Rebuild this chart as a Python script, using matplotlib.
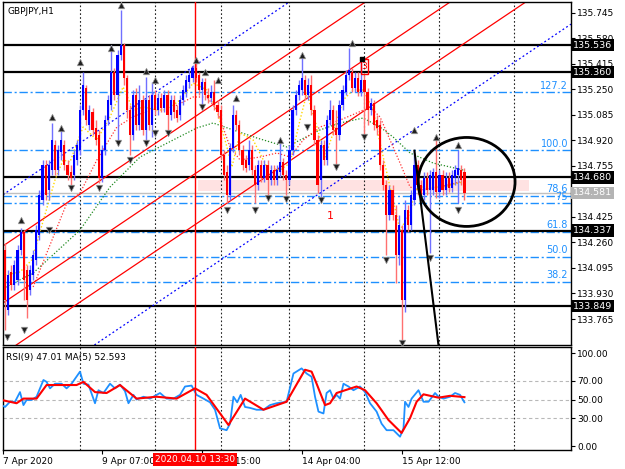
import matplotlib
matplotlib.use("Agg")
import matplotlib.pyplot as plt
import matplotlib.transforms as mtransforms
from matplotlib.patches import Ellipse, Rectangle
import numpy as np

# ---- GBPJPY H1 candles (bar 0 = first visible bar) ----
opens = [134.211, 133.823, 134.069, 133.985, 134.017, 134.211, 134.327, 134.082, 133.953, 134.049,
         134.147, 134.308, 134.534, 134.760, 134.599, 134.728, 134.890, 134.728, 134.844, 134.890,
         134.760, 134.715, 134.696, 134.793, 134.857, 135.116, 135.258, 135.019, 135.103, 135.000,
         134.954, 134.676, 134.857, 135.051, 135.148, 135.362, 135.213, 135.471, 135.536, 135.323,
         135.116, 134.954, 135.213, 135.019, 135.181, 134.987, 135.181, 135.019, 135.213, 135.116,
         135.194, 135.129, 135.213, 135.084, 135.181, 135.116, 135.084, 135.181, 135.232, 135.297,
         135.323, 135.387, 135.342, 135.245, 135.297, 135.213, 135.194, 135.232, 135.148, 135.116,
         134.825, 134.715, 134.567, 134.870, 135.084, 135.019, 134.857, 134.793, 134.760, 134.857,
         134.728, 134.631, 134.760, 134.676, 134.760, 134.664, 134.728, 134.664, 134.715, 134.780,
         134.696, 134.664, 134.857, 135.116, 135.213, 135.245, 135.310, 135.213, 135.278, 135.116,
         134.922, 134.664, 134.890, 134.793, 135.051, 135.116, 135.000, 134.954, 135.148, 135.232,
         135.342, 135.362, 135.258, 135.323, 135.232, 135.310, 135.232, 135.116, 135.161, 135.051,
         135.019, 134.760, 134.631, 134.437, 134.599, 134.437, 134.179, 134.340, 133.888, 134.470,
         134.373, 134.534, 134.760, 134.631, 134.567, 134.676, 134.599, 134.599, 134.715, 134.586,
         134.696, 134.599, 134.676, 134.612, 134.676, 134.696, 134.728, 134.715]
highs = [134.256, 134.082, 134.114, 134.147, 134.243, 134.353, 134.340, 134.114, 134.114, 134.211,
         134.373, 134.599, 134.793, 134.793, 134.793, 135.032, 134.922, 134.890, 134.987, 134.922,
         134.793, 134.760, 134.857, 134.922, 135.148, 135.362, 135.278, 135.148, 135.129, 135.051,
         134.987, 134.890, 135.084, 135.213, 135.536, 135.387, 135.504, 135.762, 135.549, 135.342,
         135.148, 135.245, 135.258, 135.278, 135.213, 135.329, 135.213, 135.297, 135.245, 135.226,
         135.226, 135.245, 135.245, 135.213, 135.213, 135.148, 135.213, 135.278, 135.342, 135.375,
         135.407, 135.426, 135.362, 135.323, 135.323, 135.258, 135.278, 135.310, 135.181, 135.148,
         134.857, 134.760, 134.903, 135.148, 135.116, 135.051, 134.890, 134.825, 134.922, 134.890,
         134.760, 134.793, 134.793, 134.793, 134.793, 134.760, 134.760, 134.760, 134.922, 134.806,
         134.728, 134.890, 135.148, 135.245, 135.310, 135.459, 135.342, 135.323, 135.342, 135.148,
         134.954, 134.922, 134.922, 135.084, 135.181, 135.148, 135.116, 135.181, 135.278, 135.375,
         135.517, 135.387, 135.362, 135.362, 135.439, 135.342, 135.258, 135.194, 135.181, 135.084,
         135.051, 134.793, 134.664, 134.631, 134.631, 134.502, 134.437, 134.373, 134.534, 134.502,
         134.599, 134.857, 134.793, 134.664, 134.715, 134.715, 134.728, 134.741, 134.922, 134.728,
         134.728, 134.715, 134.715, 134.728, 134.760, 134.857, 134.760, 134.741]
lows = [133.694, 133.791, 133.953, 133.953, 133.985, 134.179, 133.888, 133.771, 133.920, 134.017,
        134.114, 134.276, 134.502, 134.534, 134.534, 134.696, 134.696, 134.696, 134.793, 134.728,
        134.664, 134.631, 134.664, 134.760, 134.825, 135.084, 135.019, 134.987, 134.954, 134.890,
        134.644, 134.651, 134.825, 135.019, 135.116, 135.181, 134.922, 135.439, 135.278, 135.064,
        134.825, 134.922, 134.987, 134.987, 134.954, 134.922, 134.987, 134.941, 135.084, 135.084,
        135.103, 135.103, 134.987, 135.051, 135.064, 135.038, 135.051, 135.148, 135.200, 135.258,
        135.297, 135.297, 135.213, 135.135, 135.181, 135.161, 135.168, 135.116, 135.064, 134.793,
        134.664, 134.515, 134.534, 134.844, 134.987, 134.825, 134.728, 134.715, 134.728, 134.696,
        134.515, 134.599, 134.651, 134.651, 134.567, 134.631, 134.631, 134.631, 134.683, 134.664,
        134.567, 134.631, 134.825, 135.084, 135.181, 135.213, 135.181, 135.181, 135.084, 134.890,
        134.579, 134.554, 134.760, 134.760, 135.019, 134.954, 134.760, 134.922, 135.116, 135.213,
        135.310, 135.232, 135.232, 135.206, 135.206, 134.941, 135.019, 135.084, 134.987, 134.954,
        134.728, 134.599, 134.179, 134.405, 134.405, 133.998, 134.114, 133.629, 133.810, 134.327,
        134.340, 134.502, 134.567, 134.534, 134.534, 134.567, 134.192, 134.567, 134.547, 134.547,
        134.567, 134.567, 134.586, 134.586, 134.631, 134.515, 134.631, 134.534]
closes = [133.888, 134.049, 133.985, 134.114, 134.211, 134.327, 134.017, 133.888, 134.082, 134.179,
          134.340, 134.567, 134.760, 134.567, 134.760, 134.922, 134.728, 134.857, 134.922, 134.760,
          134.696, 134.676, 134.825, 134.890, 135.116, 135.278, 135.051, 135.116, 134.987, 134.922,
          134.676, 134.857, 135.051, 135.181, 135.362, 135.213, 135.471, 135.536, 135.323, 135.116,
          134.954, 135.213, 135.019, 135.181, 134.987, 135.181, 135.019, 135.213, 135.116, 135.194,
          135.129, 135.213, 135.084, 135.181, 135.103, 135.064, 135.181, 135.245, 135.310, 135.342,
          135.387, 135.323, 135.245, 135.297, 135.213, 135.194, 135.232, 135.148, 135.103, 134.825,
          134.696, 134.567, 134.870, 135.084, 135.019, 134.857, 134.760, 134.741, 134.857, 134.728,
          134.631, 134.760, 134.676, 134.760, 134.664, 134.728, 134.664, 134.728, 134.780, 134.696,
          134.664, 134.857, 135.116, 135.213, 135.278, 135.323, 135.213, 135.278, 135.116, 134.922,
          134.631, 134.890, 134.793, 135.051, 135.116, 134.987, 134.954, 135.148, 135.245, 135.342,
          135.375, 135.258, 135.323, 135.232, 135.310, 135.232, 135.116, 135.161, 135.019, 135.000,
          134.760, 134.631, 134.437, 134.599, 134.437, 134.179, 134.373, 133.888, 134.470, 134.373,
          134.567, 134.760, 134.631, 134.567, 134.676, 134.599, 134.696, 134.715, 134.586, 134.696,
          134.599, 134.676, 134.612, 134.696, 134.728, 134.741, 134.664, 134.581]

# dotted indicator lines on the price chart (bar, price)
yellow_bar = [0, 4.8, 8.6, 16, 18.6, 20.8, 23.4, 25, 29.4, 33.6, 37.8, 41, 44.2, 48.6, 51.8, 56, 60.2,
              64.6, 67.8, 71, 72.6, 75.2, 79.4, 83.8, 88, 91.2, 94.4, 96.6, 99.8, 102.4, 105, 108.2,
              111.4, 114.6, 117.8, 120, 123.2, 126.4, 129.6, 131.2, 133.8, 140.2, 146.6]
yellow_px = [134.049, 134.069, 134.147, 134.664, 134.793, 134.780, 134.922, 135.006, 134.922, 135.071,
             135.265, 135.116, 135.135, 135.116, 135.116, 135.181, 135.290, 135.245, 135.116, 134.877,
             134.747, 134.967, 134.922, 134.747, 134.728, 134.773, 135.051, 135.226, 135.006, 134.812,
             134.967, 135.181, 135.245, 135.245, 135.116, 134.903, 134.618, 134.340, 134.450, 134.599,
             134.618, 134.618, 134.651]
reddot_bar = [9, 19.8, 24, 29.4, 35.8, 41, 48.6, 53.8, 60.2, 64.6, 67.8, 72, 75.2, 81.6, 87, 91.2,
              95.4, 100.8, 107.2, 112.6, 116.8, 120, 123.2, 126.4, 129.6, 132.8, 139.2, 145.6]
reddot_px = [133.972, 134.515, 134.579, 134.793, 135.006, 135.071, 135.135, 135.135, 135.200, 135.200,
             135.116, 134.877, 134.793, 134.812, 134.838, 134.812, 134.922, 135.006, 135.051, 135.097,
             135.135, 135.071, 134.922, 134.773, 134.618, 134.599, 134.618, 134.651]
green_bar = [-1.6, 9, 24, 33.6, 43.2, 53.8, 61.4, 66.6, 73, 80.6, 90.2, 94.4, 100.8, 107.2, 114.6,
             120, 124.2, 129.6, 137, 146.6]
green_px = [133.952, 134.062, 134.340, 134.618, 134.812, 134.922, 135.000, 135.032, 134.987, 134.935,
            134.877, 134.922, 134.987, 135.032, 135.064, 135.006, 134.941, 134.838, 134.773, 134.728]

# fractal arrows (bar, price)
up_bar = [5, 15, 18, 24, 34, 37, 45, 48, 61, 64, 68, 74, 88, 95, 111, 131, 138, 145]
up_px = [134.405, 135.071, 135.000, 135.426, 135.517, 135.795, 135.368, 135.310, 135.439, 135.362,
         135.310, 135.194, 134.922, 135.471, 135.549, 134.987, 134.941, 134.890]
dn_bar = [0.6, 6, 14, 21, 30, 36, 40, 45, 48, 52, 63, 71, 80, 84, 90, 96.5, 101, 106, 115, 122,
          127, 136, 145]
dn_px = [133.649, 133.694, 134.340, 134.612, 134.612, 134.903, 134.793, 134.903, 134.967, 134.967,
         135.135, 134.470, 134.470, 134.547, 134.541, 135.008, 134.534, 134.748, 134.941, 134.147,
         133.610, 134.159, 134.470]

# RSI(9) and its MA(5), read as (bar, value)
rsi_bar = [-1.1, 0, 1.6, 3.2, 4.8, 5.9, 6.9, 8.5, 10.1, 12.3, 13.3, 14.4, 16, 18.1, 19.7, 21.3, 24,
           25.1, 26.7, 28.8, 29.9, 31.5, 33.6, 35.2, 36.8, 38.4, 39.5, 41.1, 42.1, 44.3, 46.4, 49.6,
           51.7, 53.9, 56, 57.6, 59.7, 61.3, 63.5, 65.6, 67.2, 68.8, 70.9, 72, 73.1, 74.3, 75.4, 76.8,
           78.4, 80.5, 82.7, 84.8, 86.9, 90.1, 92.3, 94.9, 96.5, 98.1, 99.2, 100.3, 101.9, 102.9, 104,
           105.1, 106.1, 107.2, 108.3, 109.9, 111.5, 113.6, 115.2, 116.8, 118.9, 120.5, 122.1, 124.3,
           126.4, 127.5, 128, 129.1, 130.1, 132.3, 133.9, 135.5, 137.6, 138.7, 140.3, 142.4, 144,
           145.6, 147]
rsi_val = [44, 42, 47.6, 47.6, 58, 44, 49.5, 49.5, 53, 71, 69, 62, 67, 67, 62, 67, 80,
           67, 66, 46, 60, 57, 67, 62, 66, 59, 46, 55, 50, 53, 51, 57,
           51, 51, 55, 64, 65, 55, 51, 47, 39, 19, 17, 24, 53, 47, 55, 42,
           41, 39, 39, 44, 46, 47.6, 78, 83.5, 78, 74.5, 53, 37, 35, 57, 60,
           51, 55, 51, 67, 64, 60, 64, 58, 46, 37, 24, 17, 17,
           10, 19, 47.6, 42, 51, 60, 47.6, 47.6, 57, 53, 51, 53, 57,
           55, 47.01]
ma_bar = [-1.1, 3.7, 5.9, 10.1, 13.3, 22.9, 25.1, 28.8, 32.5, 36.8, 42.1, 48.5, 54.9, 60.8, 64.5,
          71.5, 76.8, 82.7, 90.1, 96, 98.1, 99.7, 102.4, 104, 106.1, 112.5, 115.2, 118.9, 122.7,
          126.9, 129.6, 131.7, 133.9, 138.7, 142.4, 147]
ma_val = [49.5, 46, 51, 51, 65.6, 65.6, 69, 58, 57, 65.6, 51, 53, 51, 62, 55,
          22.6, 51, 39, 47.6, 82, 80, 67, 44, 46, 57, 64, 60, 46, 28,
          14, 30, 47.6, 55.6, 52, 54, 52.593]

# horizontal levels, fibonacci and channel objects
h_levels = [135.536, 135.360, 134.680, 134.337, 133.849]
last_price = 134.581
fib_low, fib_high = 133.479, 134.857
fib_pcts = [127.2, 100.0, 78.6, 75.0, 61.8, 50.0, 38.2]
fib_text = ["127.2", "100.0", "78.6", "75", "61.8", "50.0", "38.2"]
red_channel = [(134.246, 135.606), (133.877, 135.237), (133.548, 134.908)]   # price at bar 0 / bar 100
blue_channel = [(134.577, 135.937), (133.208, 134.568)]
price_ticks = [135.745, 135.580, 135.415, 135.250, 135.085, 134.920, 134.755, 134.590,
               134.425, 134.260, 134.095, 133.930, 133.765]
hidden_tick = 134.590   # sits under the current-price box
time_bars = [-0.6, 31, 63, 95, 127]
time_labels = ["7 Apr 2020", "9 Apr 07:00", "10 Apr 15:00", "14 Apr 04:00", "15 Apr 12:00"]
grid_bars = [24, 48, 69, 91, 115, 139, 163]
cursor_bar = 60.8

plt.rcParams['font.family'] = ['DejaVu Sans']
FS = 6.5

fig = plt.figure(figsize=(6.25, 4.69), dpi=100)
ax = fig.add_axes([3 / 625, 1 - 345 / 469, 568 / 625, 343 / 469])
ax2 = fig.add_axes([3 / 625, 1 - 450 / 469, 568 / 625, 103 / 469])

x = np.arange(len(closes))
o = np.array(opens); c = np.array(closes)
h = np.array(highs); l = np.array(lows)
up = c >= o
col = np.where(up, '#0000ff', '#ff0000')
wick_col = np.where(up, '#7070ff', '#ff7070')

# background objects
ax.add_patch(Rectangle((61.8, 134.593), 106, 0.071, facecolor='#ffe2e2', edgecolor='none', zorder=0.5))
for g in grid_bars:
    for a in (ax, ax2):
        a.axvline(g, color='#222222', lw=0.8, linestyle=(0, (1.5, 2)), zorder=1)
ytr = mtransforms.blended_transform_factory(ax.transAxes, ax.transData)
for p, txt in zip(fib_pcts, fib_text):
    lvl = fib_low + (fib_high - fib_low) * p / 100
    ax.axhline(lvl, color='#1e90ff', lw=1, linestyle=(0, (6, 2, 1.5, 2)), zorder=1)
    ax.text(0.995, lvl + 0.01, txt, transform=ytr, ha='right', va='bottom',
            color='#1e90ff', fontsize=FS + 0.5, zorder=2)
ax.axhline(last_price, color='#c0c0c0', lw=1, zorder=1.1)
for lv in h_levels:
    ax.axhline(lv, color='black', lw=1.6, zorder=1.2)
for p0, p1 in red_channel:
    ax.axline((0, p0), (100, p1), color='#ff0000', lw=0.9, zorder=1.5)
for p0, p1 in blue_channel:
    ax.axline((0, p0), (100, p1), color='#0000ff', lw=0.9, linestyle=(0, (1.5, 2)), zorder=1.5)

ax.plot(green_bar, green_px, color='#228b22', lw=0.9, linestyle=(0, (1, 1.5)), zorder=2)
ax.plot(reddot_bar, reddot_px, color='#ff3030', lw=0.9, linestyle=(0, (1, 1.5)), zorder=2)
ax.plot(yellow_bar, yellow_px, color='#ffd700', lw=1.0, linestyle=(0, (1, 1.5)), zorder=2)

# candles
ax.vlines(x, l, h, colors=wick_col, lw=1, zorder=3)
body = np.maximum(np.abs(c - o), 0.004)
ax.bar(x, body, bottom=np.minimum(o, c), width=0.7, color=col, zorder=3)

# fractal arrows
ax.scatter(up_bar, up_px, marker='^', s=22, facecolor='#202020', edgecolor='#a0a0a0', lw=0.5, zorder=4)
ax.scatter(dn_bar, dn_px, marker='v', s=22, facecolor='#202020', edgecolor='#a0a0a0', lw=0.5, zorder=4)

# drawn objects
ax.add_patch(Ellipse((147.7, 134.651), 31, 0.575, fill=False, edgecolor='black', lw=2, zorder=4))
ax.plot([131, 139.5], [134.853, 133.466], color='black', lw=1.5, zorder=4)
ax.add_patch(Rectangle((113.9, 135.351), 2.3, 0.097, fill=False, edgecolor='red', lw=1, zorder=4))
ax.text(115.05, 135.40, "3", color='red', fontsize=FS, ha='center', va='center', zorder=4)
ax.scatter([114.1], [135.445], marker='s', s=5, color='black', zorder=5)
ax.text(104, 134.431, "1", color='red', fontsize=FS + 1.5, ha='center', va='center', zorder=4)
ax.text(0.008, 0.985, "GBPJPY,H1", transform=ax.transAxes, ha='left', va='top', fontsize=FS)

for a in (ax, ax2):
    a.axvline(cursor_bar, color='red', lw=1, zorder=3.5)
    a.set_xlim(-0.64, 181.1)
    for s in a.spines.values():
        s.set_linewidth(1)

ax.set_ylim(133.597, 135.814)
ax.yaxis.tick_right()
ax.set_yticks(price_ticks)
ax.set_yticklabels(["" if t == hidden_tick else f"{t:.3f}" for t in price_ticks])
ax.tick_params(axis='y', direction='out', length=3, pad=1.5, labelsize=FS)
ax.set_xticks([])

for lv in h_levels:
    ax.text(1.003, lv, f"{lv:.3f}", transform=ytr, ha='left', va='center', color='white',
            fontsize=FS + 0.3, clip_on=False, zorder=6,
            bbox=dict(boxstyle='square,pad=0.18', facecolor='black', edgecolor='none'))
ax.text(1.003, last_price, f"{last_price:.3f}", transform=ytr, ha='left', va='center', color='white',
        fontsize=FS + 0.3, clip_on=False, zorder=6,
        bbox=dict(boxstyle='square,pad=0.18', facecolor='#b4b4b4', edgecolor='none'))

# RSI panel
for lvl in (30, 50, 70):
    ax2.axhline(lvl, color='#b8b8b8', lw=0.8, linestyle=(0, (3, 2.5)), zorder=1)
ax2.plot(rsi_bar, rsi_val, color='#1e90ff', lw=1.3, zorder=3)
ax2.plot(ma_bar, ma_val, color='#ff0000', lw=1.5, zorder=3)
ax2.set_ylim(-4.3, 106.5)
ax2.yaxis.tick_right()
ax2.set_yticks([0, 30, 50, 70, 100])
ax2.set_yticklabels(["0.00", "30.00", "50.00", "70.00", "100.00"])
ax2.tick_params(axis='y', direction='out', length=3, pad=1.5, labelsize=FS)
ax2.text(0.006, 0.94, f"RSI(9) {rsi_val[-1]:.2f} MA(5) {ma_val[-1]:.3f}", transform=ax2.transAxes,
         ha='left', va='top', fontsize=FS)
ax2.set_xticks(time_bars)
ax2.set_xticklabels(time_labels)
ax2.tick_params(axis='x', direction='out', length=3, pad=2, labelsize=FS)
for t in ax2.get_xticklabels():
    t.set_ha('left')
ax2.text(cursor_bar, -0.05, "2020.04.10 13:30",
         transform=mtransforms.blended_transform_factory(ax2.transData, ax2.transAxes),
         ha='center', va='top', color='white', fontsize=FS, clip_on=False, zorder=6,
         bbox=dict(boxstyle='square,pad=0.2', facecolor='#ff0000', edgecolor='none'))

fig.savefig("out.png", dpi=100, facecolor='white')
